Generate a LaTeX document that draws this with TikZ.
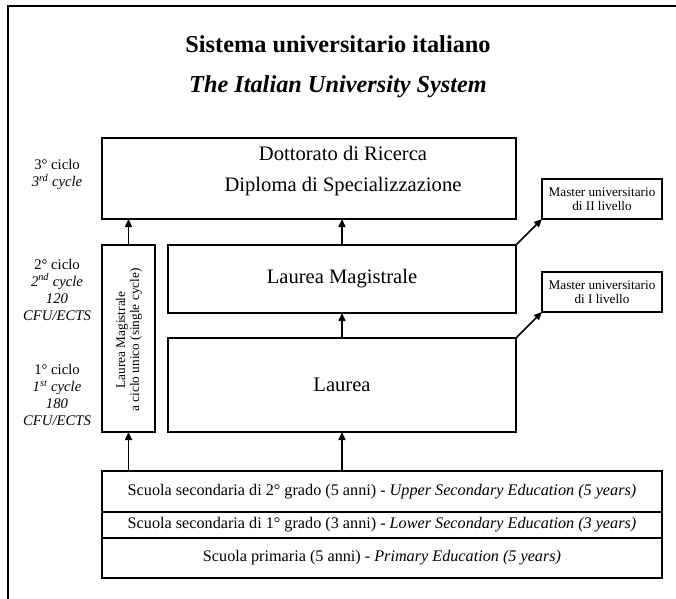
\documentclass[tikz,border=0pt]{standalone}
\usepackage{fontspec}
\setmainfont{Liberation Serif}
\usetikzlibrary{arrows.meta}

\begin{document}
\begin{tikzpicture}[x=1pt,y=1pt,yscale=-1,xscale=1,
  box/.style={draw,line width=2pt,rectangle,inner sep=0pt,outer sep=0pt},
  arr/.style={line width=1.5pt,-{Triangle[length=8pt,width=7pt]}},
  big/.style={font=\fontsize{20.6}{28}\selectfont,align=center},
  cyc/.style={font=\fontsize{14.7}{17}\selectfont,align=center},
  small/.style={font=\fontsize{13.2}{14}\selectfont,align=center},
  school/.style={font=\fontsize{16.2}{19}\selectfont}]
\useasboundingbox (0,0) rectangle (676,598);
\clip (0,0) rectangle (676,598);

%Frame
\draw [line width=2.5pt] (8,6) rectangle (700,620);

% Title
\node (tit) at (338,44) {\fontsize{24.3}{28}\selectfont\bfseries Sistema universitario italiano};
\node (subtit) at (338,87) {\fontsize{24.3}{28}\selectfont\bfseries\itshape The Italian University System};

% Boxes
\node [box,minimum width=414pt,minimum height=81pt] (dott) at (309,178.5) {};
\node [font=\fontsize{20.6}{31}\selectfont,align=center] (dottlbl) at (343,171) {Dottorato di Ricerca\\Diploma di Specializzazione};
\node [box,minimum width=53pt,minimum height=187pt] (lmcu) at (128.5,338.5) {};
\node [rotate=90,font=\fontsize{13.3}{14}\selectfont,align=center] (lmculbl) at (129,340) {Laurea Magistrale\\a ciclo unico (single cycle)};
\node [box,big,minimum width=348pt,minimum height=68pt] (lm) at (342,279) {Laurea Magistrale};
\node [box,big,minimum width=348pt,minimum height=94pt] (lau) at (342,385) {Laurea};
\node [box,small,minimum width=120pt,minimum height=40pt] (mtwo) at (602,199) {Master universitario\\di II livello};
\node [box,small,minimum width=120pt,minimum height=40pt] (mone) at (602,292) {Master universitario\\di I livello};

% Schools
\node [box,school,minimum width=560pt,minimum height=41pt] (sectwo) at (382,491.5) {Scuola secondaria di 2° grado (5 anni) - \textit{Upper Secondary Education (5 years)}};
\node [box,school,minimum width=560pt,minimum height=26pt] (secone) at (382,525) {Scuola secondaria di 1° grado (3 anni) - \textit{Lower Secondary Education (3 years)}};
\node [box,school,minimum width=560pt,minimum height=40pt] (prim) at (382,558) {Scuola primaria (5 anni) - \textit{Primary Education (5 years)}};

% Cycles
\node [cyc] (cycthree) at (57,174.5) {3° ciclo\\\textit{3\textsuperscript{rd} cycle}};
\node [cyc] (cyctwo) at (57,289.5) {2° ciclo\\\textit{2\textsuperscript{nd} cycle}\\\textit{120}\\\textit{CFU/ECTS}};
\node [cyc] (cycone) at (57,395) {1° ciclo\\\textit{1\textsuperscript{st} cycle}\\\textit{180}\\\textit{CFU/ECTS}};

% Arrows
\draw [arr] (lmcu.north) -- (lmcu.north |- dott.south);
\draw [arr] (lm.north) -- (lm.north |- dott.south);
\draw [arr] (lau.north) -- (lm.south);
\draw [arr] (lm.north east) -- (mtwo.south west);
\draw [arr] (lau.north east) -- (mone.south west);
\draw [arr] (lmcu.south |- sectwo.north) -- (lmcu.south);
\draw [arr] (lau.south |- sectwo.north) -- (lau.south);

\end{tikzpicture}
\end{document}
